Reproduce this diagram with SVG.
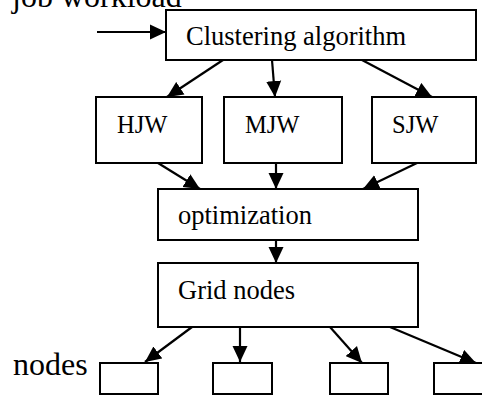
<svg xmlns="http://www.w3.org/2000/svg" width="482" height="396" viewBox="0 0 482 396">
<style>
.box{fill:#fff;stroke:#000;stroke-width:2}
.t{font-family:"Liberation Serif","Times New Roman",serif;fill:#000}
.c line{stroke:#000;stroke-width:2.2;marker-end:url(#ah)}
</style>
<defs>
<marker id="ah" markerUnits="userSpaceOnUse" markerWidth="17" markerHeight="16" viewBox="0 0 17 16" refX="16" refY="8" orient="auto">
<path d="M0,0.5 L16,8 L0,15.5 Z" fill="#000"/>
</marker>
</defs>
<rect width="482" height="396" fill="#fff"/>
<text class="t" x="12" y="7" font-size="32">job workload</text>
<text class="t" x="13" y="375" font-size="32">nodes</text>
<g id="clustering"><rect class="box" x="166" y="10" width="310" height="50"/><text class="t" x="186" y="45" font-size="26.5">Clustering algorithm</text></g>
<g id="hjw"><rect class="box" x="96" y="97" width="106" height="66"/><text class="t" x="117" y="133" font-size="24.5">HJW</text></g>
<g id="mjw"><rect class="box" x="224" y="97" width="118" height="66"/><text class="t" x="245" y="133" font-size="24.5">MJW</text></g>
<g id="sjw"><rect class="box" x="372" y="97" width="104" height="66"/><text class="t" x="392" y="133" font-size="24.5">SJW</text></g>
<g id="optimization"><rect class="box" x="158" y="189" width="260" height="51"/><text class="t" x="178" y="224" font-size="26.5">optimization</text></g>
<g id="grid"><rect class="box" x="158" y="263" width="260" height="64"/><text class="t" x="178" y="299" font-size="26.5">Grid nodes</text></g>
<g id="n1"><rect class="box" x="100" y="363" width="58" height="31"/></g>
<g id="n2"><rect class="box" x="213" y="363" width="59" height="31"/></g>
<g id="n3"><rect class="box" x="330" y="363" width="58" height="31"/></g>
<g id="n4"><rect class="box" x="434" y="363" width="60" height="31"/></g>
<g id="connectors" class="c">
<line x1="97" y1="32" x2="166" y2="32"/>
<line x1="223" y1="60" x2="167" y2="97"/>
<line x1="272" y1="60" x2="275" y2="97"/>
<line x1="362" y1="60" x2="432" y2="97"/>
<line x1="158" y1="163" x2="200" y2="189"/>
<line x1="276" y1="163" x2="276" y2="189"/>
<line x1="417" y1="163" x2="363" y2="189"/>
<line x1="276" y1="240" x2="276" y2="263"/>
<line x1="192" y1="327" x2="145" y2="362"/>
<line x1="240" y1="327" x2="240" y2="362"/>
<line x1="330" y1="327" x2="362" y2="363"/>
<line x1="390" y1="327" x2="476" y2="363"/>
</g>
</svg>
